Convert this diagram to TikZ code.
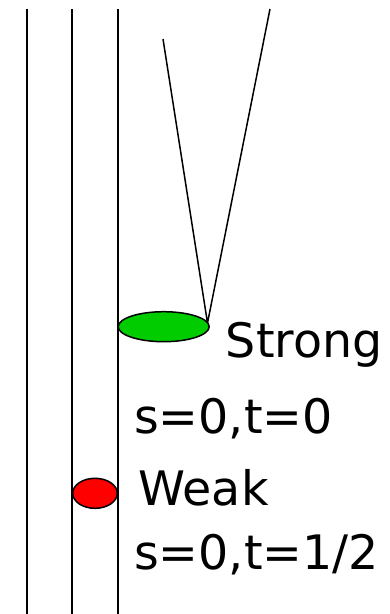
\documentclass[tikz,border=0pt]{standalone}
\usepackage{fontspec}
\setmainfont{DejaVu Sans}
\usetikzlibrary{shapes.geometric}
\begin{document}
\begin{tikzpicture}[x=1pt,y=-1pt,
  wire/.style={line width=1.7pt,black},
  blob/.style={ellipse,draw=black,line width=1.5pt,inner sep=0pt},
  lbl/.style={anchor=base west,inner sep=0pt,font=\fontsize{47.5}{57}\selectfont}]
\useasboundingbox (0,0) rectangle (390,614);
% three vertical lines
\coordinate (a1) at (27.3,9);   \coordinate (a2) at (27.3,614);
\coordinate (b1) at (72.3,9);   \coordinate (b2) at (72.3,614);
\coordinate (c1) at (117.7,9);  \coordinate (c2) at (117.7,614);
\draw[wire] (a1) -- (a2);
\draw[wire] (b1) -- (b2);
\draw[wire] (c1) -- (c2);
% the cone
\coordinate (v1) at (163,39);
\coordinate (v2) at (270,9);
\coordinate (apex) at (207.5,323);
\draw[wire,line width=1.5pt] (v1) -- (apex) -- (v2);
% ellipses
\node[blob,fill={rgb,255:red,0;green,204;blue,0},minimum width=91pt,minimum height=30pt] (strong) at (163.7,326.7) {};
\node[blob,fill={rgb,255:red,255;green,0;blue,0},minimum width=44.6pt,minimum height=30pt] (weak) at (95,493.3) {};
% labels
\node[lbl] (tstrong) at (225.7,357.7) {Strong};
\node[lbl] (tst0) at (134,433.3) {s=0,t=0};
\node[lbl] (tweak) at (138.3,505.7) {Weak};
\node[lbl] (tst1) at (134,569.3) {s=0,t=1/2};
\end{tikzpicture}
\end{document}
